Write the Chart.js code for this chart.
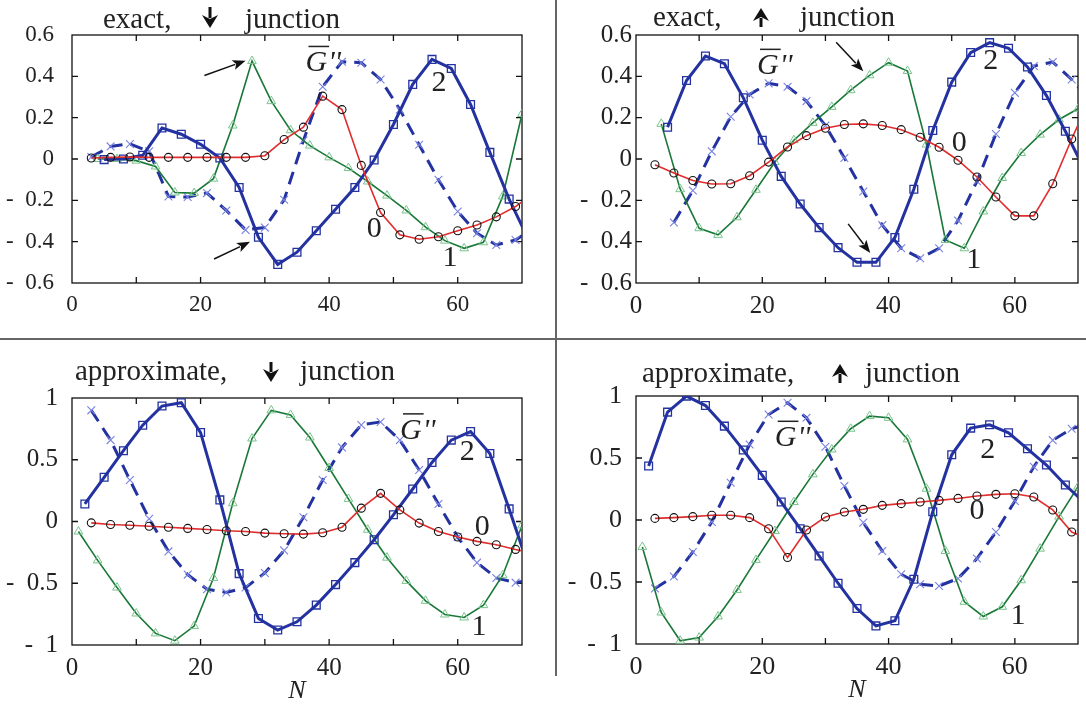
<!DOCTYPE html>
<html>
<head>
<meta charset="utf-8">
<script src="https://cdn.jsdelivr.net/npm/chart.js@4.4.1/dist/chart.umd.min.js"></script>
<style>
  html, body { margin: 0; padding: 0; background: #fff; }
  #wrap { position: relative; width: 1086px; height: 706px; overflow: hidden; }
  canvas { position: absolute; }
  .sep { position: absolute; background: #666; }
</style>
</head>
<body>
<div id="wrap">
  <canvas id="p1" width="555" height="340" style="left:0;top:0"></canvas>
  <canvas id="p2" width="531" height="340" style="left:555px;top:0"></canvas>
  <canvas id="p3" width="555" height="366" style="left:0;top:340px"></canvas>
  <canvas id="p4" width="531" height="366" style="left:555px;top:340px"></canvas>
  <div class="sep" style="left:555px;top:0;width:1.5px;height:676px"></div>
  <div class="sep" style="left:0;top:338px;width:1086px;height:1.5px"></div>
</div>
<script>
// N positions of the markers of each curve
const nCirc = [3, 6, 9, 12, 15, 18, 21, 24, 27, 30, 33, 36, 39, 42, 45, 48, 51, 54, 57, 60, 63, 66, 69, 72];
const nTri = [1, 4, 7, 10, 13, 16, 19, 22, 25, 28, 31, 34, 37, 40, 43, 46, 49, 52, 55, 58, 61, 64, 67, 70];
const nSq = [2, 5, 8, 11, 14, 17, 20, 23, 26, 29, 32, 35, 38, 41, 44, 47, 50, 53, 56, 59, 62, 65, 68, 71];

// exact, down junction
const exDown0 = [0.005, 0.008, 0.01, 0.008, 0.008, 0.008, 0.008, 0.008, 0.008, 0.016, 0.094, 0.154, 0.304, 0.239, -0.031, -0.259, -0.367, -0.388, -0.376, -0.347, -0.319, -0.28, -0.23, -0.16];
const exDown1 = [null, 0.0, 0.0, -0.008, -0.036, -0.162, -0.165, -0.095, 0.162, 0.474, 0.28, 0.139, 0.065, 0.008, -0.044, -0.109, -0.177, -0.249, -0.33, -0.395, -0.432, -0.403, -0.181, 0.218];
const exDown2 = [null, -0.003, 0.0, 0.018, 0.15, 0.12, 0.071, 0.005, -0.138, -0.379, -0.51, -0.451, -0.347, -0.243, -0.138, -0.005, 0.167, 0.361, 0.482, 0.438, 0.264, 0.032, -0.194, -0.39];
const exDownG = [0.01, 0.061, 0.073, 0.037, -0.181, -0.184, -0.165, -0.249, -0.343, -0.332, -0.197, 0.09, 0.35, 0.471, 0.466, 0.385, 0.239, 0.069, -0.1, -0.254, -0.359, -0.416, -0.392, -0.33];

// exact, up junction
const exUp0 = [-0.028, -0.068, -0.104, -0.121, -0.12, -0.081, -0.015, 0.058, 0.113, 0.149, 0.167, 0.17, 0.162, 0.142, 0.105, 0.057, -0.006, -0.087, -0.184, -0.275, -0.275, -0.12, 0.097, 0.3];
const exUp1 = [null, 0.17, -0.146, -0.335, -0.367, -0.282, -0.149, -0.015, 0.091, 0.175, 0.252, 0.333, 0.405, 0.466, 0.426, 0.07, -0.392, -0.432, -0.254, -0.092, 0.029, 0.118, 0.191, 0.243];
const exUp2 = [null, 0.154, 0.38, 0.498, 0.461, 0.296, 0.091, -0.084, -0.218, -0.332, -0.429, -0.5, -0.5, -0.38, -0.146, 0.138, 0.372, 0.515, 0.563, 0.536, 0.445, 0.307, 0.134, -0.05];
const exUpG = [null, -0.307, -0.152, 0.037, 0.204, 0.312, 0.366, 0.35, 0.28, 0.162, 0.005, -0.157, -0.32, -0.432, -0.48, -0.432, -0.298, -0.108, 0.121, 0.32, 0.45, 0.469, 0.385, 0.28];

// approximate, down junction
const apDown0 = [-0.011, -0.024, -0.03, -0.038, -0.046, -0.056, -0.065, -0.075, -0.081, -0.094, -0.099, -0.102, -0.091, -0.046, 0.108, 0.228, 0.094, -0.013, -0.081, -0.126, -0.161, -0.188, -0.226, -0.26];
const apDown1 = [-0.081, -0.315, -0.535, -0.745, -0.906, -0.965, -0.847, -0.457, 0.148, 0.672, 0.9, 0.863, 0.68, 0.433, 0.183, -0.067, -0.293, -0.481, -0.642, -0.753, -0.777, -0.677, -0.435, -0.032];
const apDown2 = [0.142, 0.358, 0.573, 0.78, 0.935, 0.962, 0.72, 0.175, -0.422, -0.785, -0.879, -0.812, -0.677, -0.511, -0.333, -0.148, 0.054, 0.263, 0.478, 0.659, 0.728, 0.551, 0.102, -0.36];
const apDownG = [0.9, 0.659, 0.336, 0.022, -0.242, -0.43, -0.548, -0.575, -0.535, -0.417, -0.234, 0.035, 0.336, 0.6, 0.782, 0.806, 0.659, 0.417, 0.142, -0.126, -0.333, -0.457, -0.495, -0.47];

// approximate, up junction
const apUp0 = [0.013, 0.019, 0.027, 0.038, 0.038, 0.019, -0.07, -0.303, -0.081, 0.024, 0.064, 0.086, 0.118, 0.132, 0.145, 0.158, 0.174, 0.193, 0.207, 0.212, 0.185, 0.081, -0.097, -0.16];
const apUp1 = [-0.217, -0.746, -0.974, -0.948, -0.778, -0.564, -0.322, -0.089, 0.145, 0.368, 0.569, 0.736, 0.838, 0.824, 0.65, 0.252, -0.25, -0.66, -0.778, -0.7, -0.486, -0.231, 0.027, 0.268];
const apUp2 = [0.435, 0.87, 0.999, 0.923, 0.757, 0.564, 0.36, 0.145, -0.07, -0.29, -0.51, -0.714, -0.854, -0.813, -0.478, 0.067, 0.526, 0.741, 0.768, 0.703, 0.574, 0.443, 0.282, 0.14];
const apUpG = [-0.553, -0.456, -0.258, -0.016, 0.301, 0.609, 0.851, 0.945, 0.824, 0.591, 0.274, -0.021, -0.25, -0.438, -0.518, -0.532, -0.472, -0.311, -0.097, 0.153, 0.43, 0.644, 0.736, 0.78];

const serif = '"Liberation Serif", "Times New Roman", serif';
const blue = 'rgb(35, 50, 160)';

let series = function (ns, vals) {
    return ns.map((n, i) => ({ x: n, y: vals[i] }));
}

let makeDatasets = function (s0, s1, s2, sG) {
    return [{
            label: '0',
            data: series(nCirc, s0),
            borderColor: 'rgb(225, 45, 45)',
            borderWidth: 1.6,
            pointStyle: 'circle',
            pointRadius: 4,
            pointBorderColor: '#111',
            pointBorderWidth: 1.1,
            pointBackgroundColor: 'rgba(0,0,0,0)'
        }, {
            label: '2',
            data: series(nSq, s2),
            borderColor: blue,
            borderWidth: 3,
            pointStyle: 'rect',
            pointRadius: 5.5,
            pointBorderColor: blue,
            pointBorderWidth: 1.3,
            pointBackgroundColor: 'rgba(0,0,0,0)'
        }, {
            label: '1',
            data: series(nTri, s1),
            borderColor: 'rgb(25, 120, 55)',
            borderWidth: 1.6,
            pointStyle: 'triangle',
            pointRadius: 5,
            pointBorderColor: 'rgb(120, 195, 140)',
            pointBorderWidth: 1,
            pointBackgroundColor: 'rgba(0,0,0,0)'
        }, {
            label: 'G',
            data: series(nCirc, sG),
            borderColor: blue,
            borderWidth: 3,
            borderDash: [13, 8],
            pointStyle: 'crossRot',
            pointRadius: 5.5,
            pointBorderColor: 'rgb(120, 130, 225)',
            pointBorderWidth: 1.1,
            pointBackgroundColor: 'rgba(0,0,0,0)'
        }];
}

let fmtY = function (v) {
    let r = Math.round(v * 10) / 10;
    if (r === 0) return '0';
    return r < 0 ? '-  ' + Math.abs(r) : String(r);
}

// box with inward ticks
const framePlugin = {
    id: 'frame',
    beforeDatasetsDraw(chart) {
        const { ctx, chartArea: a, scales: { x, y } } = chart;
        ctx.save();
        ctx.strokeStyle = '#111';
        ctx.lineWidth = 1.3;
        ctx.strokeRect(a.left, a.top, a.right - a.left, a.bottom - a.top);
        ctx.beginPath();
        x.ticks.forEach(t => {
            const px = x.getPixelForValue(t.value);
            if (px <= a.left + 1 || px >= a.right - 1) return;
            ctx.moveTo(px, a.top); ctx.lineTo(px, a.top + 6);
            ctx.moveTo(px, a.bottom); ctx.lineTo(px, a.bottom - 6);
        });
        y.ticks.forEach(t => {
            const py = y.getPixelForValue(t.value);
            if (py <= a.top + 1 || py >= a.bottom - 1) return;
            ctx.moveTo(a.left, py); ctx.lineTo(a.left + 6, py);
            ctx.moveTo(a.right, py); ctx.lineTo(a.right - 6, py);
        });
        ctx.stroke();
        ctx.restore();
    }
};

let bigArrow = function (ctx, cx, top, bot, dir) {
    const hw = 8, hl = 13;
    ctx.strokeStyle = '#111';
    ctx.fillStyle = '#111';
    ctx.lineWidth = 3;
    ctx.beginPath();
    if (dir === 'down') {
        ctx.moveTo(cx, top); ctx.lineTo(cx, bot - hl + 3);
        ctx.stroke();
        ctx.beginPath();
        ctx.moveTo(cx, bot); ctx.lineTo(cx - hw, bot - hl); ctx.lineTo(cx, bot - hl + 4); ctx.lineTo(cx + hw, bot - hl);
    } else {
        ctx.moveTo(cx, bot); ctx.lineTo(cx, top + hl - 3);
        ctx.stroke();
        ctx.beginPath();
        ctx.moveTo(cx, top); ctx.lineTo(cx - hw, top + hl); ctx.lineTo(cx, top + hl - 4); ctx.lineTo(cx + hw, top + hl);
    }
    ctx.closePath();
    ctx.fill();
}

let smallArrow = function (ctx, x1, y1, x2, y2) {
    const ang = Math.atan2(y2 - y1, x2 - x1), hl = 13, hw = 5;
    ctx.strokeStyle = '#111';
    ctx.fillStyle = '#111';
    ctx.lineWidth = 1.5;
    ctx.beginPath();
    ctx.moveTo(x1, y1);
    ctx.lineTo(x2 - Math.cos(ang) * (hl - 2), y2 - Math.sin(ang) * (hl - 2));
    ctx.stroke();
    ctx.save();
    ctx.translate(x2, y2);
    ctx.rotate(ang);
    ctx.beginPath();
    ctx.moveTo(0, 0); ctx.lineTo(-hl, -hw); ctx.lineTo(-hl + 3, 0); ctx.lineTo(-hl, hw);
    ctx.closePath();
    ctx.fill();
    ctx.restore();
}

let gBar = function (ctx, cx, cy) {
    ctx.font = 'italic 30px ' + serif;
    ctx.textBaseline = 'alphabetic';
    ctx.textAlign = 'left';
    const wG = ctx.measureText('G').width;
    const wP = ctx.measureText("''").width;
    const left = cx - (wG + wP) / 2;
    const base = cy + 10;
    ctx.fillText('G', left, base);
    ctx.fillText("''", left + wG + 1, base);
    ctx.lineWidth = 1.5;
    ctx.strokeStyle = '#222';
    ctx.beginPath();
    ctx.moveTo(left + 3, base - 25);
    ctx.lineTo(left + wG + 2, base - 25);
    ctx.stroke();
}

// titles, curve labels, pointer arrows, axis name
let notesPlugin = function (spec) {
    return {
        id: 'notes',
        afterDatasetsDraw(chart) {
            const { ctx, chartArea: a, scales: { x, y } } = chart;
            ctx.save();
            ctx.fillStyle = '#222';
            ctx.font = '29px ' + serif;
            ctx.textAlign = 'left';
            ctx.textBaseline = 'alphabetic';
            const t = spec.title;
            ctx.fillText(t.word, t.x1, t.base);
            ctx.fillText('junction', t.x2, t.base);
            bigArrow(ctx, t.ax, t.atop, t.abot, t.dir);

            spec.labels.forEach(l => {
                const px = x.getPixelForValue(l.n), py = y.getPixelForValue(l.v);
                ctx.fillStyle = '#222';
                if (l.t === 'G') {
                    gBar(ctx, px, py);
                } else {
                    ctx.font = '30px ' + serif;
                    ctx.textAlign = 'center';
                    ctx.textBaseline = 'middle';
                    ctx.fillText(l.t, px, py);
                }
            });

            (spec.arrows || []).forEach(r => {
                smallArrow(ctx, x.getPixelForValue(r[0]), y.getPixelForValue(r[1]),
                    x.getPixelForValue(r[2]), y.getPixelForValue(r[3]));
            });

            if (spec.axisName) {
                ctx.fillStyle = '#222';
                ctx.font = 'italic 26px ' + serif;
                ctx.textAlign = 'center';
                ctx.textBaseline = 'middle';
                ctx.fillText('N', (a.left + a.right) / 2, a.bottom + 46);
            }
            ctx.restore();
        }
    };
}

let makePanel = function (id, o) {
    return new Chart(document.getElementById(id), {
        type: 'line',
        data: { datasets: makeDatasets(o.s0, o.s1, o.s2, o.sG) },
        options: {
            responsive: false,
            animation: false,
            events: [],
            layout: { padding: { top: o.top, right: o.right, left: 0, bottom: 0 } },
            plugins: { legend: { display: false }, tooltip: { enabled: false } },
            elements: { line: { tension: 0 } },
            scales: {
                x: {
                    type: 'linear',
                    min: 0,
                    max: 70,
                    grid: { display: false, drawTicks: false },
                    border: { display: false },
                    ticks: {
                        stepSize: 10,
                        autoSkip: false,
                        maxRotation: 0,
                        padding: o.xPad,
                        color: '#222',
                        font: { family: serif, size: o.fs },
                        callback: v => (v % 20 === 0 ? String(v) : '')
                    },
                    afterFit: s => { s.height = o.xH; }
                },
                y: {
                    min: o.ymin,
                    max: o.ymax,
                    grid: { display: false, drawTicks: false },
                    border: { display: false },
                    ticks: {
                        stepSize: o.ystep,
                        autoSkip: false,
                        padding: o.yPad,
                        color: '#222',
                        font: { family: serif, size: o.fs },
                        callback: fmtY
                    },
                    afterFit: s => { s.width = o.yW; }
                }
            }
        },
        plugins: [framePlugin, notesPlugin(o.notes)]
    });
}

makePanel('p1', {
    s0: exDown0, s1: exDown1, s2: exDown2, sG: exDownG,
    top: 35, right: 33, yW: 72, xH: 57, xPad: 8, yPad: 18, fs: 23,
    ymin: -0.6, ymax: 0.6, ystep: 0.2,
    notes: {
        title: { word: 'exact,', x1: 103, x2: 245, base: 28, ax: 210, atop: 7, abot: 28, dir: 'down' },
        labels: [{ t: 'G', n: 39, v: 0.472 }, { t: '2', n: 57.1, v: 0.365 }, { t: '0', n: 47, v: -0.338 }, { t: '1', n: 58.8, v: -0.479 }],
        arrows: [[20.6, 0.404, 27.0, 0.476], [22.1, -0.484, 27.7, -0.401]]
    }
});

makePanel('p2', {
    s0: exUp0, s1: exUp1, s2: exUp2, sG: exUpG,
    top: 35, right: 0, yW: 81, xH: 57, xPad: 8, yPad: 4, fs: 25,
    ymin: -0.6, ymax: 0.6, ystep: 0.2,
    notes: {
        title: { word: 'exact,', x1: 98, x2: 245, base: 26, ax: 206, atop: 8, abot: 27, dir: 'up' },
        labels: [{ t: 'G', n: 21.9, v: 0.458 }, { t: '2', n: 56.2, v: 0.472 }, { t: '0', n: 51.2, v: 0.079 }, { t: '1', n: 53.5, v: -0.489 }],
        arrows: [[31.7, 0.565, 36.0, 0.424], [33.6, -0.314, 37.1, -0.455]]
    }
});

makePanel('p3', {
    s0: apDown0, s1: apDown1, s2: apDown2, sG: apDownG,
    top: 58, right: 33, yW: 72, xH: 61, xPad: 8, yPad: 14, fs: 25,
    ymin: -1, ymax: 1, ystep: 0.5,
    notes: {
        title: { word: 'approximate,', x1: 75, x2: 300, base: 40, ax: 271, atop: 22, abot: 42, dir: 'down' },
        labels: [{ t: 'G', n: 53.7, v: 0.75 }, { t: '2', n: 61.5, v: 0.565 }, { t: '0', n: 63.8, v: -0.048 }, { t: '1', n: 63.3, v: -0.855 }],
        axisName: true
    }
});

makePanel('p4', {
    s0: apUp0, s1: apUp1, s2: apUp2, sG: apUpG,
    top: 56, right: 0, yW: 81, xH: 62, xPad: 8, yPad: 14, fs: 26,
    ymin: -1, ymax: 1, ystep: 0.5,
    notes: {
        title: { word: 'approximate,', x1: 87, x2: 310, base: 42, ax: 285, atop: 24, abot: 43, dir: 'up' },
        labels: [{ t: 'G', n: 24.7, v: 0.675 }, { t: '2', n: 55.7, v: 0.562 }, { t: '0', n: 54, v: 0.07 }, { t: '1', n: 60.5, v: -0.776 }],
        axisName: true
    }
});
</script>
</body>
</html>
